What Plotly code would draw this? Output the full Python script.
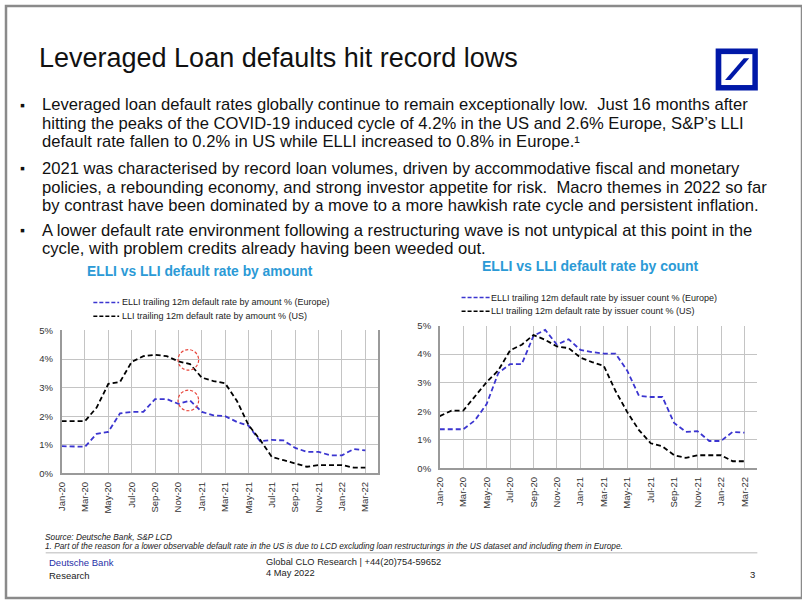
import plotly.graph_objects as go

months = ["Jan-20","Feb-20","Mar-20","Apr-20","May-20","Jun-20","Jul-20","Aug-20","Sep-20","Oct-20","Nov-20","Dec-20",
          "Jan-21","Feb-21","Mar-21","Apr-21","May-21","Jun-21","Jul-21","Aug-21","Sep-21","Oct-21","Nov-21","Dec-21",
          "Jan-22","Feb-22","Mar-22"]

elli_amount = [0.95,0.95,0.93,1.38,1.45,2.10,2.15,2.15,2.60,2.60,2.43,2.55,2.15,2.03,2.00,1.80,1.67,1.12,1.17,1.15,0.89,0.75,0.75,0.63,0.63,0.85,0.80]
lli_amount = [1.83,1.83,1.83,2.30,3.13,3.20,3.90,4.10,4.15,4.10,3.92,3.82,3.35,3.23,3.15,2.54,1.69,1.17,0.57,0.46,0.34,0.23,0.29,0.29,0.29,0.20,0.20]
elli_count = [1.37,1.37,1.37,1.68,2.25,3.34,3.65,3.65,4.64,4.85,4.33,4.52,4.15,4.07,4.02,4.02,3.42,2.54,2.50,2.50,1.59,1.28,1.30,0.96,0.96,1.28,1.25]
lli_count = [1.83,2.02,2.02,2.51,3.02,3.43,4.13,4.33,4.67,4.50,4.27,4.21,3.88,3.72,3.59,2.71,1.97,1.34,0.88,0.77,0.46,0.37,0.46,0.46,0.46,0.25,0.25]

y_ticks = [0, 1, 2, 3, 4, 5]
y_tick_labels = ["0%", "1%", "2%", "3%", "4%", "5%"]

legend_amount = ["ELLI trailing 12m default rate by amount % (Europe)", "LLI trailing 12m default rate by amount % (US)"]
legend_count = ["ELLI trailing 12m default rate by issuer count % (Europe)", "LLI trailing 12m default rate by issuer count % (US)"]

W, H = 802, 603
def px(x): return x / W
def py(y): return 1 - y / H

FONT = "Liberation Sans, Arial, sans-serif"
CHART_FONT = "Liberation Sans, Arial, sans-serif"
BLUE = "#3b35d0"
TITLE_BLUE = "#2b9ad6"
DASH = "5px,3px"

idx = list(range(len(months)))

fig = go.Figure()
fig.add_trace(go.Scatter(x=idx, y=elli_amount, mode="lines", name=legend_amount[0],
                         line=dict(color=BLUE, width=1.8, dash=DASH), xaxis="x", yaxis="y"))
fig.add_trace(go.Scatter(x=idx, y=lli_amount, mode="lines", name=legend_amount[1],
                         line=dict(color="black", width=1.8, dash=DASH), xaxis="x", yaxis="y"))
fig.add_trace(go.Scatter(x=idx, y=elli_count, mode="lines", name=legend_count[0],
                         line=dict(color=BLUE, width=1.8, dash=DASH), xaxis="x2", yaxis="y2"))
fig.add_trace(go.Scatter(x=idx, y=lli_count, mode="lines", name=legend_count[1],
                         line=dict(color="black", width=1.8, dash=DASH), xaxis="x2", yaxis="y2"))

def xaxis_common():
    return dict(range=[0, 27.1], tickmode="array", tickvals=idx[::2], ticktext=months[::2], tickangle=-90,
                showgrid=True, gridcolor="#c4c4c4", gridwidth=1.2, showline=True, linecolor="#9a9a9a", linewidth=1.5,
                mirror=False, ticks="", ticklabelstandoff=3,
                tickfont=dict(family=CHART_FONT, size=9.5, color="#333"), zeroline=False, fixedrange=True)

def yaxis_common(mirror):
    return dict(range=[0, 5], tickmode="array", tickvals=y_ticks, ticktext=y_tick_labels,
                showgrid=True, gridcolor="#c4c4c4", gridwidth=1.2, showline=True, linecolor="#9a9a9a", linewidth=1.5,
                mirror=mirror, ticks="", ticklabelstandoff=5,
                tickfont=dict(family=CHART_FONT, size=9.5, color="#333"), zeroline=False, fixedrange=True)

fig.update_layout(
    width=W, height=H, margin=dict(l=0, r=0, t=0, b=0),
    paper_bgcolor="white", plot_bgcolor="white",
    xaxis=dict(domain=[px(56), px(375)], anchor="y", **xaxis_common()),
    yaxis=dict(domain=[py(476), py(330.5)], anchor="x", **yaxis_common(True)),
    xaxis2=dict(domain=[px(437), px(757)], anchor="y2", **xaxis_common()),
    yaxis2=dict(domain=[py(471), py(325.5)], anchor="x2", **yaxis_common(False)),
    showlegend=False,
)

shapes = []
# slide frame
shapes.append(dict(type="rect", xref="paper", yref="paper", x0=0, x1=1, y0=0, y1=1,
                   line=dict(color="#8a8a8a", width=2.5), fillcolor="rgba(0,0,0,0)"))
# logo
shapes.append(dict(type="rect", xref="paper", yref="paper", x0=px(715), x1=px(757.5), y0=py(86), y1=py(43.3),
                   line=dict(width=0), fillcolor="#0018a8"))
shapes.append(dict(type="rect", xref="paper", yref="paper", x0=px(720.7), x1=px(752), y0=py(80.5), y1=py(49),
                   line=dict(width=0), fillcolor="white"))
slash = [(724.5, 75.5), (730, 75.5), (748.8, 53.3), (743.3, 53.3)]
path = "M " + " L ".join(f"{px(a):.5f},{py(b):.5f}" for a, b in slash) + " Z"
shapes.append(dict(type="path", xref="paper", yref="paper", path=path, line=dict(width=0), fillcolor="#0018a8"))
# footer separator
shapes.append(dict(type="line", xref="paper", yref="paper", x0=px(40), x1=px(757), y0=py(557), y1=py(557),
                   line=dict(color="#d0d0d0", width=1.5)))
# red dashed highlight circles around Dec-20 values
dec20 = months.index("Dec-20")
rx, ry = 0.88, 0.36
for val in (lli_amount[dec20] + 0.15, elli_amount[dec20]):
    cx = dec20 - 0.15
    shapes.append(dict(type="circle", xref="x", yref="y", x0=cx - rx, x1=cx + rx, y0=val - ry, y1=val + ry,
                       line=dict(color="#e8443a", width=1.2, dash="3px,2px")))

ann = []
def text(x, y, s, size, color="#111", family=FONT, xanchor="left", **kw):
    ann.append(dict(x=px(x), y=py(y), xref="paper", yref="paper", text=s, showarrow=False, xanchor=xanchor,
                    yanchor="middle", font=dict(size=size, color=color, family=family), **kw))

# manual legends (compact rows like the reference)
for (lx0, lx1, tx, ys, labels) in [(88, 114, 115, (302, 316), legend_amount), (459, 488, 487, (297, 311), legend_count)]:
    for y, lab, col in zip(ys, labels, (BLUE, "black")):
        shapes.append(dict(type="line", xref="paper", yref="paper", x0=px(lx0), x1=px(lx1), y0=py(y), y1=py(y),
                           line=dict(color=col, width=1.5, dash="4px,2px")))
        text(tx, y, lab, 9, "#222", CHART_FONT)

fig.update_layout(shapes=shapes)

text(31, 53, "Leveraged Loan defaults hit record lows", 27, "#111")

bullet_lines = [
    (100.5, "Leveraged loan default rates globally continue to remain exceptionally low.  Just 16 months after", True),
    (119.5, "hitting the peaks of the COVID-19 induced cycle of 4.2% in the US and 2.6% Europe, S&P’s LLI", False),
    (138.5, "default rate fallen to 0.2% in US while ELLI increased to 0.8% in Europe.¹", False),
    (165.5, "2021 was characterised by record loan volumes, driven by accommodative fiscal and monetary", True),
    (184.5, "policies, a rebounding economy, and strong investor appetite for risk.  Macro themes in 2022 so far", False),
    (203.5, "by contrast have been dominated by a move to a more hawkish rate cycle and persistent inflation.", False),
    (228.5, "A lower default rate environment following a restructuring wave is not untypical at this point in the", True),
    (247.5, "cycle, with problem credits already having been weeded out.", False),
]
for y, s, has_bullet in bullet_lines:
    if has_bullet:
        text(12, y, "▪", 14, "#111")
    text(34, y, s, 16.6, "#111")

text(195, 270, "<b>ELLI vs LLI default rate by amount</b>", 13.8, TITLE_BLUE, CHART_FONT, xanchor="center")
text(589, 265, "<b>ELLI vs LLI default rate by count</b>", 14, TITLE_BLUE, CHART_FONT, xanchor="center")

text(37, 541, "<i>Source: Deutsche Bank, S&P LCD</i>", 8.3, "#222")
text(37, 550, "<i>1. Part of the reason for a lower observable default rate in the US is due to LCD excluding loan restructurings in the US dataset and including them in Europe.</i>", 8.3, "#222")
text(41, 567, "Deutsche Bank", 9.5, "#1f2fa8")
text(41, 580, "Research", 9.5, "#222")
text(260, 566, "Global CLO Research | +44(20)754-59652", 9.3, "#222")
text(260, 578, "4 May 2022", 9.3, "#222")
text(757, 579, "3", 9.5, "#222", xanchor="right")

fig.update_layout(annotations=ann)
fig.write_html("out.html", config={"displayModeBar": False},
               post_script="document.body.style.margin='0';")
